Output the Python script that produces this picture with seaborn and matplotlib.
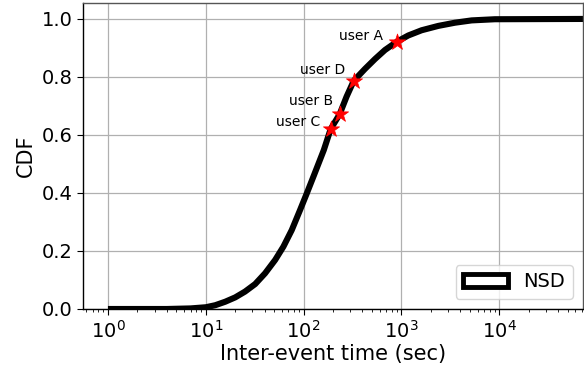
import matplotlib
matplotlib.use("Agg")
import matplotlib.pyplot as plt
from matplotlib.patches import Patch
import seaborn as sns
import pandas as pd

# CDF of inter-event times (seconds)
inter_event_sec = [1, 4, 7, 10, 12.5, 15.8, 20, 25.2, 32, 40.4, 51.2, 62.2, 75.7, 92,
                   108, 128, 161, 189, 234, 275, 326, 425, 538, 680, 903, 1176, 1610,
                   2382, 3525, 5224, 9040, 72000]
cdf_values = [0.0, 0.0, 0.002, 0.006, 0.013, 0.025, 0.040, 0.060, 0.086, 0.123, 0.169,
              0.215, 0.272, 0.341, 0.399, 0.462, 0.548, 0.62, 0.672, 0.732, 0.787, 0.828,
              0.862, 0.893, 0.922, 0.943, 0.961, 0.976, 0.987, 0.995, 0.999, 1.0]

# Highlighted users on the curve
user_names = ["user A", "user B", "user C", "user D"]
user_sec = [903, 234, 189, 326]
user_cdf = [0.922, 0.672, 0.62, 0.787]
label_offsets = {"user A": (-10, 4), "user B": (-4.5, 9.5),
                 "user C": (-7.5, 5.5), "user D": (-6, 8)}

sns.set_style("ticks")
plt.rcParams["font.family"] = ["DejaVu Sans"]
plt.rcParams.update({"text.color": "black", "axes.labelcolor": "black",
                     "xtick.color": "black", "ytick.color": "black"})

curve = pd.DataFrame({"t": inter_event_sec, "cdf": cdf_values})
users = pd.DataFrame({"name": user_names, "t": user_sec, "cdf": user_cdf})

fig = plt.figure(figsize=(5.84, 3.73), dpi=100)
ax = fig.add_axes([0.142, 0.1716, 0.856, 0.8196])

sns.lineplot(data=curve, x="t", y="cdf", color="black", linewidth=4.4,
             solid_joinstyle="round", solid_capstyle="butt", ax=ax, legend=False)
sns.scatterplot(data=users, x="t", y="cdf", marker="*", s=150, color="red",
                edgecolor="red", linewidth=0.5, zorder=5, ax=ax, legend=False)

for name, t, c in zip(user_names, user_sec, user_cdf):
    ax.annotate(name, (t, c), xytext=label_offsets[name], textcoords="offset points",
                ha="right", va="center", fontsize=10)

ax.set_xscale("log")
ax.set_xlim(0.555, 71600)
ax.set_ylim(0, 1.054)
ax.set_yticks([0.0, 0.2, 0.4, 0.6, 0.8, 1.0])
ax.grid(True, which="major", color="#b0b0b0", linewidth=0.9)
ax.set_axisbelow(True)

for s in ax.spines.values():
    s.set_color("black")
    s.set_linewidth(1.0)
ax.spines["top"].set_color("#555555")
ax.spines["right"].set_color("#555555")

ax.tick_params(axis="both", which="major", labelsize=14, length=4)
ax.tick_params(axis="x", which="minor", length=2.5)
ax.set_xlabel("Inter-event time (sec)", fontsize=15, labelpad=2)
ax.set_ylabel("CDF", fontsize=15, labelpad=4)

handle = Patch(facecolor="white", edgecolor="black", linewidth=3.5, label="NSD")
ax.legend(handles=[handle], loc="lower right", fontsize=14, handlelength=2.3,
          frameon=True, fancybox=True, framealpha=0.8, edgecolor="#cccccc")

fig.savefig("out.png", dpi=100)
